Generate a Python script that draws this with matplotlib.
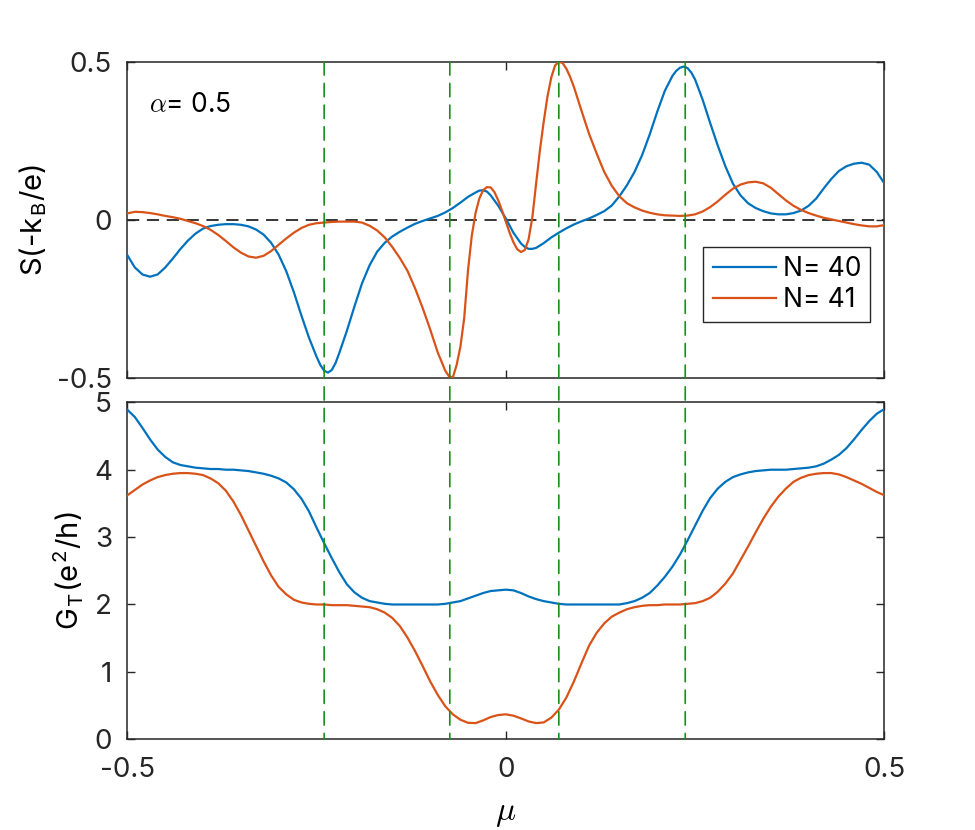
import numpy as np
import matplotlib
matplotlib.use("Agg")
import matplotlib.pyplot as plt
from matplotlib.patches import ConnectionPatch

plt.rcParams['font.family'] = ['Inter', 'Liberation Sans', 'DejaVu Sans']
plt.rcParams['mathtext.fontset'] = 'cm'
plt.rcParams['axes.unicode_minus'] = False

# ---------------- data ----------------
mu = [round(-0.5 + 0.01 * i, 2) for i in range(101)]

mu_40 = [-0.50, -0.49, -0.48, -0.47, -0.46, -0.45, -0.44, -0.43, -0.42, -0.41,
         -0.40, -0.39, -0.38, -0.37, -0.36, -0.35, -0.34, -0.33, -0.32, -0.31,
         -0.30, -0.29, -0.28, -0.27, -0.26, -0.25, -0.245, -0.24, -0.235, -0.23,
         -0.225, -0.22, -0.21, -0.20, -0.19, -0.18, -0.17, -0.16, -0.15, -0.14,
         -0.13, -0.12, -0.11, -0.10, -0.09, -0.08, -0.07, -0.06, -0.05, -0.04,
         -0.035, -0.03, -0.025, -0.02, -0.01, 0.0, 0.01, 0.02, 0.025, 0.03,
         0.035, 0.04, 0.05, 0.06, 0.07, 0.08, 0.09, 0.10, 0.11, 0.12,
         0.13, 0.14, 0.15, 0.16, 0.17, 0.18, 0.19, 0.20, 0.21, 0.22,
         0.225, 0.23, 0.235, 0.24, 0.245, 0.25, 0.26, 0.27, 0.28, 0.29,
         0.30, 0.31, 0.32, 0.33, 0.34, 0.35, 0.36, 0.37, 0.38, 0.39,
         0.40, 0.41, 0.42, 0.43, 0.44, 0.45, 0.46, 0.47, 0.48, 0.49,
         0.50]

S_40 = [-0.111, -0.150, -0.172, -0.179, -0.172, -0.150, -0.122, -0.092, -0.065, -0.043,
        -0.027, -0.019, -0.015, -0.013, -0.013, -0.015, -0.020, -0.030, -0.046, -0.072,
        -0.110, -0.162, -0.228, -0.302, -0.372, -0.432, -0.458, -0.476, -0.482, -0.474,
        -0.452, -0.420, -0.350, -0.273, -0.200, -0.143, -0.100, -0.072, -0.052, -0.037,
        -0.024, -0.012, -0.003, 0.005, 0.013, 0.024, 0.038, 0.055, 0.073, 0.087,
        0.093, 0.094, 0.090, 0.078, 0.045, 0.005, -0.040, -0.074, -0.085, -0.091,
        -0.091, -0.088, -0.073, -0.055, -0.040, -0.026, -0.014, -0.004, 0.005, 0.016,
        0.028, 0.046, 0.075, 0.110, 0.152, 0.205, 0.270, 0.342, 0.408, 0.455,
        0.471, 0.481, 0.485, 0.480, 0.466, 0.444, 0.380, 0.306, 0.235, 0.170,
        0.115, 0.078, 0.053, 0.038, 0.028, 0.021, 0.018, 0.018, 0.022, 0.030,
        0.045, 0.068, 0.100, 0.130, 0.155, 0.170, 0.178, 0.181, 0.175, 0.152,
        0.116]

mu_41 = [-0.50, -0.49, -0.48, -0.47, -0.46, -0.45, -0.44, -0.43, -0.42, -0.41,
         -0.40, -0.39, -0.38, -0.37, -0.36, -0.35, -0.34, -0.33, -0.32, -0.31,
         -0.30, -0.29, -0.28, -0.27, -0.26, -0.25, -0.24, -0.23, -0.22, -0.21,
         -0.20, -0.19, -0.18, -0.17, -0.16, -0.15, -0.14, -0.13, -0.12, -0.11,
         -0.10, -0.09, -0.08, -0.075, -0.07, -0.065, -0.06, -0.055, -0.05, -0.045,
         -0.04, -0.035, -0.03, -0.025, -0.02, -0.015, -0.01, -0.005, 0.0, 0.005,
         0.01, 0.015, 0.02, 0.025, 0.03, 0.035, 0.04, 0.045, 0.05, 0.055,
         0.06, 0.065, 0.07, 0.075, 0.08, 0.085, 0.09, 0.10, 0.11, 0.12,
         0.13, 0.14, 0.15, 0.16, 0.17, 0.18, 0.19, 0.20, 0.21, 0.22,
         0.23, 0.24, 0.25, 0.26, 0.27, 0.28, 0.29, 0.30, 0.31, 0.32,
         0.33, 0.34, 0.35, 0.36, 0.37, 0.38, 0.39, 0.40, 0.41, 0.42,
         0.43, 0.44, 0.45, 0.46, 0.47, 0.48, 0.49, 0.50]

S_41 = [0.021, 0.026, 0.025, 0.022, 0.018, 0.013, 0.009, 0.004, -0.003, -0.010,
        -0.019, -0.031, -0.047, -0.066, -0.086, -0.103, -0.115, -0.119, -0.113, -0.098,
        -0.078, -0.058, -0.040, -0.025, -0.015, -0.010, -0.008, -0.006, -0.005, -0.005,
        -0.005, -0.008, -0.018, -0.033, -0.055, -0.085, -0.120, -0.160, -0.215, -0.277,
        -0.345, -0.418, -0.476, -0.494, -0.497, -0.458, -0.400, -0.310, -0.160, -0.050,
        0.022, 0.068, 0.094, 0.104, 0.103, 0.088, 0.062, 0.030, -0.005, -0.040,
        -0.070, -0.092, -0.101, -0.095, -0.062, 0.008, 0.115, 0.220, 0.310, 0.390,
        0.450, 0.488, 0.500, 0.496, 0.478, 0.452, 0.420, 0.345, 0.272, 0.210,
        0.152, 0.108, 0.075, 0.053, 0.040, 0.030, 0.023, 0.018, 0.015, 0.014,
        0.013, 0.014, 0.018, 0.027, 0.041, 0.059, 0.080, 0.099, 0.112, 0.119,
        0.121, 0.116, 0.102, 0.082, 0.062, 0.045, 0.032, 0.022, 0.014, 0.007,
        0.002, -0.003, -0.008, -0.013, -0.017, -0.020, -0.020, -0.016]

G_40 = [4.89, 4.78, 4.62, 4.45, 4.30, 4.19, 4.11, 4.07, 4.05, 4.03,
        4.02, 4.01, 4.01, 4.00, 4.00, 3.99, 3.98, 3.96, 3.94, 3.91,
        3.87, 3.81, 3.71, 3.57, 3.38, 3.14, 2.91, 2.69, 2.48, 2.30,
        2.18, 2.10, 2.05, 2.03, 2.01, 2.00, 2.00, 2.00, 2.00, 2.00,
        2.00, 2.00, 2.01, 2.03, 2.05, 2.09, 2.13, 2.17, 2.20, 2.21,
        2.22, 2.21, 2.17, 2.12, 2.08, 2.05, 2.03, 2.01, 2.00, 2.00,
        2.00, 2.00, 2.00, 2.00, 2.00, 2.00, 2.02, 2.05, 2.10, 2.17,
        2.28, 2.41, 2.56, 2.74, 2.95, 3.17, 3.39, 3.58, 3.72, 3.82,
        3.89, 3.93, 3.96, 3.98, 3.99, 4.00, 4.00, 4.00, 4.01, 4.02,
        4.03, 4.05, 4.09, 4.15, 4.22, 4.32, 4.45, 4.59, 4.72, 4.83,
        4.90]

G_41 = [3.62, 3.70, 3.78, 3.84, 3.89, 3.92, 3.94, 3.95, 3.95, 3.94,
        3.92, 3.87, 3.80, 3.69, 3.53, 3.33, 3.10, 2.87, 2.64, 2.43,
        2.26, 2.15, 2.07, 2.03, 2.01, 2.00, 2.00, 1.99, 1.99, 1.99,
        1.98, 1.97, 1.96, 1.93, 1.88, 1.80, 1.68, 1.51, 1.31, 1.09,
        0.86, 0.66, 0.49, 0.37, 0.29, 0.245, 0.24, 0.28, 0.33, 0.36,
        0.37, 0.35, 0.31, 0.265, 0.24, 0.25, 0.32, 0.44, 0.62, 0.86,
        1.13, 1.39, 1.58, 1.72, 1.82, 1.88, 1.93, 1.96, 1.98, 1.99,
        1.99, 2.00, 2.00, 2.00, 2.01, 2.02, 2.05, 2.10, 2.19, 2.31,
        2.46, 2.66, 2.86, 3.07, 3.27, 3.45, 3.60, 3.72, 3.82, 3.88,
        3.92, 3.94, 3.95, 3.95, 3.93, 3.89, 3.84, 3.79, 3.73, 3.67,
        3.62]

mu_marks = [-0.240, -0.074, 0.070, 0.237]

labels = ['N= 40', 'N= 41']
x_ticks = [-0.5, 0, 0.5]
x_ticklabels = ['-0.5', '0', '0.5']
s_ticks = [-0.5, 0, 0.5]
s_ticklabels = ['-0.5', '0', '0.5']
g_ticks = [0, 1, 2, 3, 4, 5]
g_ticklabels = ['0', '1', '2', '3', '4', '5']

# ---------------- style ----------------
blue = '#0072BD'
orange = '#D95319'
green = '#1a8f1a'
axcol = '#262626'
fs_tick = 20
fs_label = 21

fig = plt.figure(figsize=(9.75, 8.3), dpi=100)
ax1 = fig.add_axes([0.1306, 0.5442, 0.7764, 0.3814])
ax2 = fig.add_axes([0.1306, 0.1093, 0.7764, 0.4060])

for ax in (ax1, ax2):
    ax.set_xlim(-0.5, 0.5)
    for sp in ax.spines.values():
        sp.set_color(axcol)
        sp.set_linewidth(1.1)
    ax.tick_params(direction='in', top=True, right=True, length=6, width=1.0,
                   colors=axcol, labelcolor='#262626', labelsize=fs_tick)
    ax.tick_params(axis='x', pad=13)
    ax.tick_params(axis='y', pad=11)
    ax.set_xticks(x_ticks)

# top panel
ax1.axhline(0, color='k', lw=1.1, ls=(0, (8, 5)), zorder=1)
ax1.plot(mu_40, S_40, color=blue, lw=1.6, label=labels[0], zorder=3)
ax1.plot(mu_41, S_41, color=orange, lw=1.6, label=labels[1], zorder=3)
ax1.set_ylim(-0.5, 0.5)
ax1.set_yticks(s_ticks)
ax1.set_yticklabels(s_ticklabels)
ax1.set_xticklabels([])
ax1.set_ylabel(r'S(-k$_\mathregular{B}$/e)', fontsize=fs_label, labelpad=6)
ax1.text(0.029, 0.864, r'$\alpha$= 0.5', transform=ax1.transAxes,
         fontsize=19, ha='left', va='center')
leg = ax1.legend(loc='lower right', bbox_to_anchor=(0.9815, 0.177), borderaxespad=0,
                 fontsize=19, fancybox=False, framealpha=1, edgecolor='#262626',
                 handlelength=2.4, handletextpad=0.25, labelspacing=0.2, borderpad=0.35)
leg.get_frame().set_linewidth(1.0)

# bottom panel
ax2.plot(mu, G_40, color=blue, lw=1.6, zorder=3)
ax2.plot(mu, G_41, color=orange, lw=1.6, zorder=3)
ax2.set_ylim(0, 5)
ax2.set_yticks(g_ticks)
ax2.set_yticklabels(g_ticklabels)
ax2.set_xticklabels(x_ticklabels)
ax2.set_ylabel(r'G$_\mathregular{T}$(e$^\mathregular{2}$/h)', fontsize=fs_label, labelpad=6)
ax2.set_xlabel(r'$\mu$', fontsize=24, labelpad=10)

# vertical green dashed markers spanning both panels
for xm in mu_marks:
    con = ConnectionPatch(xyA=(xm, 0.5), coordsA='data', axesA=ax1,
                          xyB=(xm, 0.0), coordsB='data', axesB=ax2,
                          color=green, lw=1.2, linestyle=(0, (8, 5)), zorder=5)
    fig.add_artist(con)

fig.savefig('out.png', dpi=100)
